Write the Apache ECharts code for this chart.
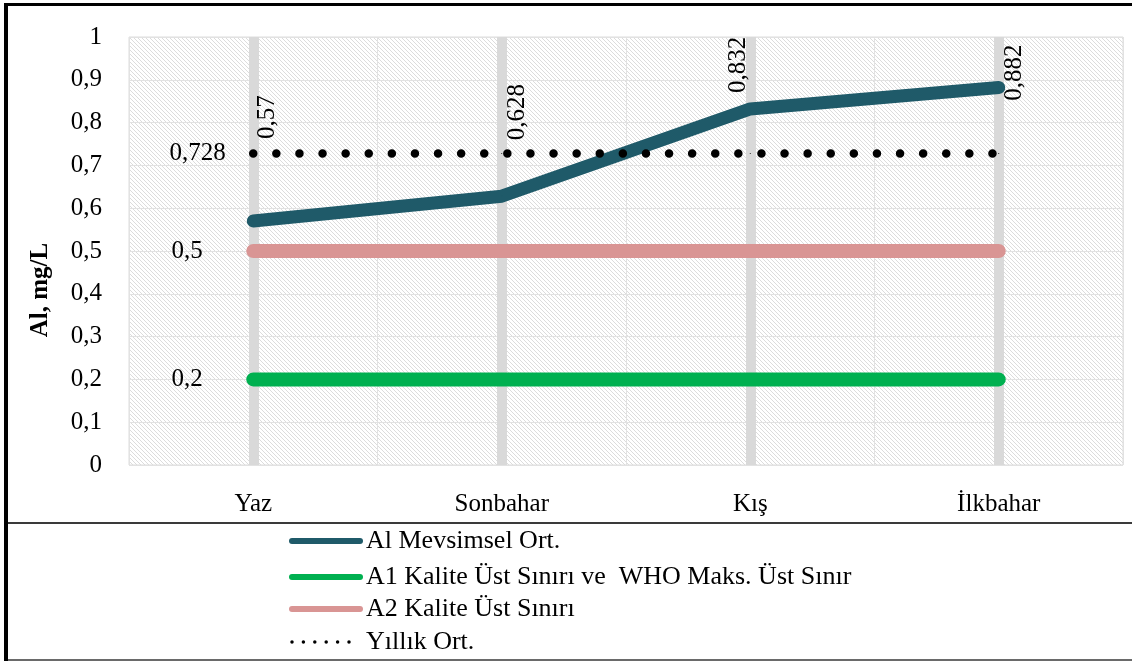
<!DOCTYPE html>
<html>
<head>
<meta charset="utf-8">
<script src="https://cdn.jsdelivr.net/npm/echarts@6/dist/echarts.min.js"></script>
<style>
  html, body { margin: 0; padding: 0; background: #fff; }
  #chart { width: 1132px; height: 661px; }
</style>
</head>
<body>
<div id="chart"></div>
<script>
// Seasons on the category axis
const seasons = ['Yaz', 'Sonbahar', 'Kış', 'İlkbahar'];

// Seasonal mean aluminium concentration (mg/L)
const alSeasonal = [0.57, 0.628, 0.832, 0.882];
// A1 quality upper limit / WHO maximum
const a1Limit = [0.2, 0.2, 0.2, 0.2];
// A2 quality upper limit
const a2Limit = [0.5, 0.5, 0.5, 0.5];
// Annual mean
const annualMean = [0.728, 0.728, 0.728, 0.728];

const seriesNames = [
  'Al Mevsimsel Ort.',
  'A1 Kalite Üst Sınırı ve  WHO Maks. Üst Sınır',
  'A2 Kalite Üst Sınırı',
  'Yıllık Ort.'
];

// Placement of the rotated value labels, relative to each point (px)
const alLabelShift = [[14, -104], [16, -84], [-12, -44], [16, -15]];

const FONT = '"Liberation Serif", "Times New Roman", serif';
const COLORS = { al: '#1f5a69', a1: '#00b050', a2: '#d99594', mean: '#000000' };
const fmt = v => String(+(+v).toFixed(3)).replace('.', ',');

// Fine diagonal hatching for the plot area
function hatchPattern() {
  const c = document.createElement('canvas');
  c.width = 4; c.height = 4;
  const g = c.getContext('2d');
  g.fillStyle = '#ffffff';
  g.fillRect(0, 0, 4, 4);
  g.strokeStyle = '#dcdcdc';
  g.lineWidth = 1;
  g.beginPath();
  g.moveTo(-1, -1); g.lineTo(5, 5);
  g.moveTo(-1, 3); g.lineTo(1, 5);
  g.moveTo(3, -1); g.lineTo(5, 1);
  g.stroke();
  return c;
}

// Only the first point of a flat reference line carries its value label
function flatLine(values, dist) {
  return values.map((v, i) => ({
    value: v,
    label: { show: i === 0, position: 'left', distance: dist }
  }));
}

// Legend key below the plot: a short line sample followed by the series name
const legendKeys = [
  { color: COLORS.al, width: 6, dash: null },
  { color: COLORS.a1, width: 6, dash: null },
  { color: COLORS.a2, width: 6, dash: null },
  { color: COLORS.mean, width: 3.5, dash: [0, 11.4] }
];
const legendRowY = [541, 577, 609, 642];
const legendGraphics = [];
seriesNames.forEach((name, i) => {
  const k = legendKeys[i];
  legendGraphics.push({
    type: 'line',
    shape: { x1: 292, y1: legendRowY[i], x2: 360, y2: legendRowY[i] },
    style: { stroke: k.color, lineWidth: k.width, lineCap: 'round', lineDash: k.dash }
  });
  legendGraphics.push({
    type: 'text', x: 366, y: legendRowY[i],
    style: {
      text: name, font: '26px ' + FONT, fill: '#000',
      textAlign: 'left', textVerticalAlign: 'middle'
    }
  });
});

const chart = echarts.init(document.getElementById('chart'));

chart.setOption({
  animation: false,
  backgroundColor: '#ffffff',
  textStyle: { fontFamily: FONT },
  grid: {
    left: 129, right: 9, top: 37, bottom: 196,
    show: true,
    backgroundColor: { image: hatchPattern(), repeat: 'repeat' },
    borderColor: '#dcdcdc',
    borderWidth: 1
  },
  xAxis: {
    type: 'category',
    data: seasons,
    boundaryGap: true,
    axisLine: { show: false },
    axisTick: { show: false },
    axisLabel: { fontFamily: FONT, fontSize: 25, color: '#000', margin: 27 },
    splitLine: { show: true, lineStyle: { color: '#e2e2e2', width: 1 } }
  },
  yAxis: {
    type: 'value',
    min: 0, max: 1, interval: 0.1,
    axisLine: { show: false },
    axisTick: { show: false },
    axisLabel: {
      fontFamily: FONT, fontSize: 25, color: '#000', margin: 27,
      formatter: v => String(+v.toFixed(1)).replace('.', ',')
    },
    splitLine: { show: true, lineStyle: { color: '#e2e2e2', width: 1 } }
  },
  graphic: [
    // axis title
    {
      type: 'text', x: 41, y: 290, rotation: Math.PI / 2,
      style: {
        text: 'Al, mg/L', font: 'bold 25px ' + FONT, fill: '#000',
        textAlign: 'center', textVerticalAlign: 'middle'
      }
    },
    // frame and legend divider
    { type: 'rect', shape: { x: 4, y: 3, width: 1128, height: 3 }, style: { fill: '#000' } },
    { type: 'rect', shape: { x: 4, y: 3, width: 4, height: 658 }, style: { fill: '#000' } },
    { type: 'rect', shape: { x: 8, y: 522, width: 1124, height: 2 }, style: { fill: '#3a3a3a' } },
    { type: 'rect', shape: { x: 8, y: 659, width: 1124, height: 2 }, style: { fill: '#6a6a6a' } }
  ].concat(legendGraphics),
  series: [
    {
      // wide grey drop lines at each season, kept beneath the data lines
      name: 'drop',
      type: 'line',
      z: 1,
      data: seasons.map(() => null),
      silent: true,
      markLine: {
        z: 1,
        silent: true,
        symbol: 'none',
        label: { show: false },
        lineStyle: { color: '#d9d9d9', width: 10, type: 'solid' },
        emphasis: { disabled: true },
        data: seasons.map(s => ({ xAxis: s }))
      }
    },
    {
      name: seriesNames[1],
      type: 'line',
      z: 2,
      data: flatLine(a1Limit, 50),
      symbol: 'circle', symbolSize: 1,
      itemStyle: { color: COLORS.a1 },
      lineStyle: { color: COLORS.a1, width: 14, cap: 'round' },
      label: { fontFamily: FONT, fontSize: 25, color: '#000', formatter: p => fmt(p.value) },
      emphasis: { disabled: true }
    },
    {
      name: seriesNames[2],
      type: 'line',
      z: 2,
      data: flatLine(a2Limit, 50),
      symbol: 'circle', symbolSize: 1,
      itemStyle: { color: COLORS.a2 },
      lineStyle: { color: COLORS.a2, width: 14, cap: 'round' },
      label: { fontFamily: FONT, fontSize: 25, color: '#000', formatter: p => fmt(p.value) },
      emphasis: { disabled: true }
    },
    {
      name: seriesNames[0],
      type: 'line',
      z: 3,
      data: alSeasonal.map((v, i) => ({
        value: v,
        label: { position: [alLabelShift[i][0] + 0.5, alLabelShift[i][1] + 0.5] }
      })),
      symbol: 'circle', symbolSize: 1,
      itemStyle: { color: COLORS.al },
      lineStyle: { color: COLORS.al, width: 13, cap: 'round', join: 'round' },
      label: {
        show: true, rotate: 90, align: 'center', verticalAlign: 'middle',
        fontFamily: FONT, fontSize: 25, color: '#000',
        formatter: p => fmt(p.value)
      },
      emphasis: { disabled: true }
    },
    {
      name: seriesNames[3],
      type: 'line',
      z: 4,
      data: flatLine(annualMean, 27),
      symbol: 'circle', symbolSize: 1,
      itemStyle: { color: COLORS.mean },
      lineStyle: { color: COLORS.mean, width: 8.5, type: [0, 23.1], cap: 'round' },
      label: { fontFamily: FONT, fontSize: 25, color: '#000', formatter: p => fmt(p.value) },
      emphasis: { disabled: true }
    }
  ]
});
</script>
</body>
</html>
